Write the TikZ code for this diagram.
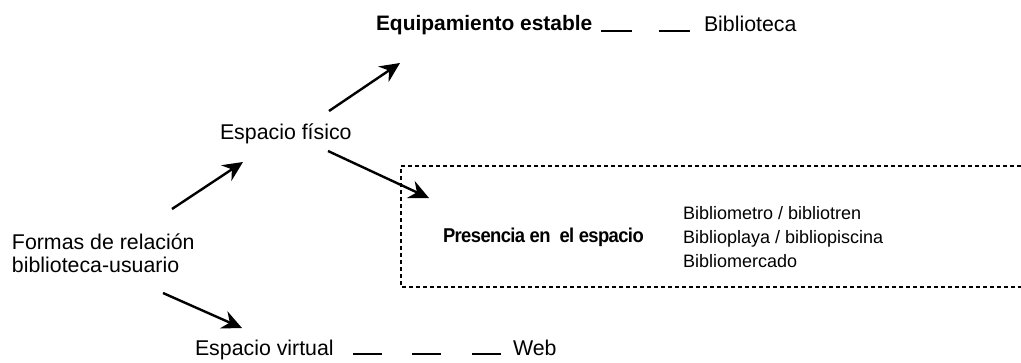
\documentclass[tikz,border=0pt]{standalone}
\usepackage{fontspec}
\setmainfont{Liberation Sans}
\newfontfamily\tightfont[LetterSpace=-3, FakeStretch=0.92]{Liberation Sans}
\usetikzlibrary{arrows.meta}
\tikzset{
  lbl/.style={inner sep=0pt, outer sep=0pt, anchor=base west, font=\fontsize{16}{17.25}\selectfont},
  lblbold/.style={lbl, font=\fontsize{15.7}{17}\selectfont\bfseries},
  boxbold/.style={lbl, font=\tightfont\fontsize{15}{17}\selectfont\bfseries},
  boxlist/.style={inner sep=0pt, outer sep=0pt, anchor=west, align=left, font=\fontsize{13.5}{18}\selectfont},
  arr/.style={line width=1.8pt, -{Stealth[length=15pt, width=14pt, inset=5pt]}},
  gapline/.style={line width=1.2pt},
  dottedbox/.style={line width=0.8pt, dash pattern=on 3pt off 2.25pt}
}
\begin{document}
\begin{tikzpicture}[x=0.75pt, y=-0.75pt]
\useasboundingbox (0,0) rectangle (1021,362);

% texts
\node[lblbold] (equip) at (376,30) {Equipamiento estable};
\node[lbl] (biblio) at (704,31) {Biblioteca};
\node[lbl] (fisico) at (220,139) {Espacio físico};
\node[lbl, anchor=west, align=left] (formas) at (12,253) {Formas de relación\\biblioteca-usuario};
\node[boxbold] (presencia) at (443,242) {Presencia en\ \ el espacio};
\node[boxlist] (lista) at (683,237) {Bibliometro / bibliotren\\Biblioplaya / bibliopiscina\\Bibliomercado};
\node[lbl] (virtual) at (195,355) {Espacio virtual};
\node[lbl] (web) at (513,355) {Web};

% dashed frame (open on the right)
\coordinate (fr1) at (1021,166);
\coordinate (fr2) at (401,166);
\coordinate (fr3) at (401,287);
\coordinate (fr4) at (1021,287);
\draw[dottedbox] (fr1) -- (fr2) -- (fr3) -- (fr4);

% arrows
\coordinate (a1s) at (172,209); \coordinate (a1e) at (243,162);
\coordinate (a2s) at (329,111); \coordinate (a2e) at (400,63);
\coordinate (a3s) at (328,151); \coordinate (a3e) at (429,198);
\coordinate (a4s) at (163,293); \coordinate (a4e) at (242,328);
\draw[arr] (a1s) -- (a1e);
\draw[arr] (a2s) -- (a2e);
\draw[arr] (a3s) -- (a3e);
\draw[arr] (a4s) -- (a4e);

% blank lines
\coordinate (d1s) at (601,31); \coordinate (d1e) at (632,31);
\coordinate (d2s) at (659,31); \coordinate (d2e) at (690,31);
\draw[gapline] (d1s) -- (d1e);
\draw[gapline] (d2s) -- (d2e);
\coordinate (v1s) at (353,354); \coordinate (v1e) at (382,354);
\coordinate (v2s) at (412,354); \coordinate (v2e) at (441,354);
\coordinate (v3s) at (472,354); \coordinate (v3e) at (501,354);
\draw[gapline] (v1s) -- (v1e);
\draw[gapline] (v2s) -- (v2e);
\draw[gapline] (v3s) -- (v3e);
\end{tikzpicture}
\end{document}
